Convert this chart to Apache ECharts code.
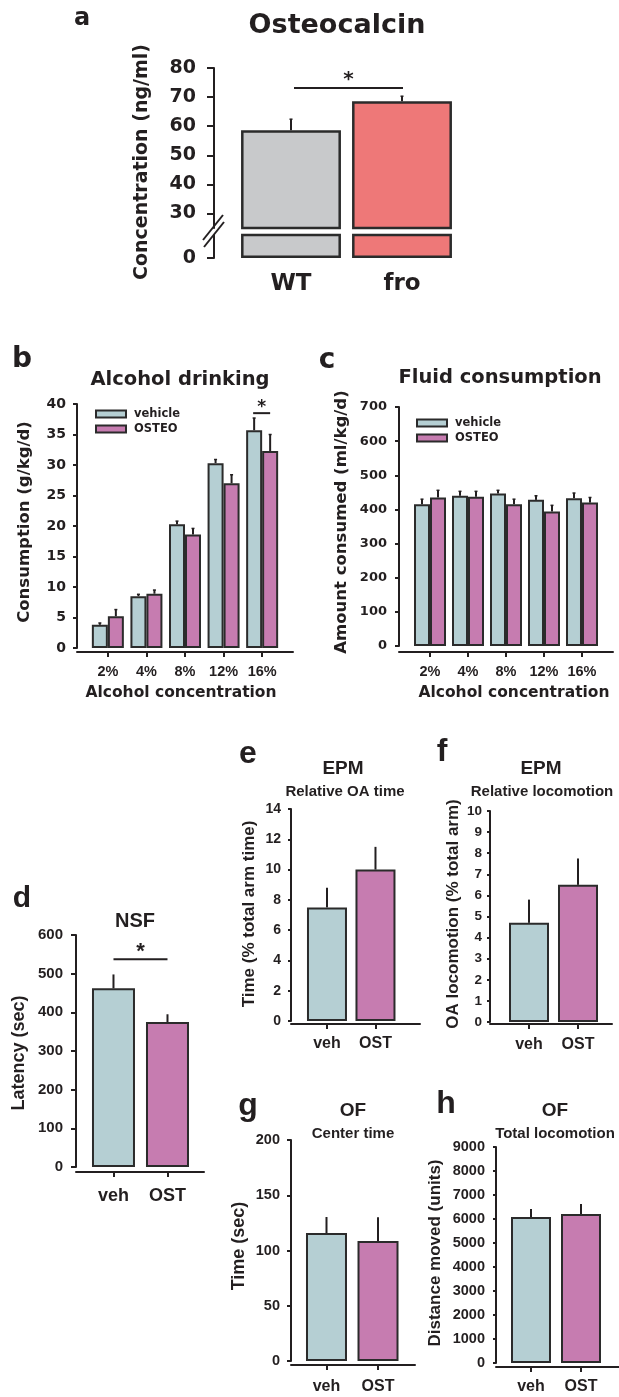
<!DOCTYPE html>
<html>
<head>
<meta charset="utf-8">
<script src="https://cdn.jsdelivr.net/npm/echarts@6/dist/echarts.min.js"></script>
<style>
  html, body { margin: 0; padding: 0; background: #fff; }
  #main { width: 619px; height: 1397px; }
</style>
</head>
<body>
<div id="main"></div>
<script>
// ---- data ----
const oscGroups = ["WT", "fro"];
const oscMean = [58.6, 68.6];
const oscSem = [3.8, 1.7];
const oscTicks = [30, 40, 50, 60, 70, 80];

const concCats = ["2%", "4%", "8%", "12%", "16%"];
const drinkVeh = [3.8, 8.5, 20.3, 30.3, 35.7];
const drinkVehSem = [0.3, 0.3, 0.5, 0.6, 2.0];
const drinkOst = [5.2, 8.9, 18.6, 27.0, 32.3];
const drinkOstSem = [1.1, 0.6, 1.0, 1.4, 2.7];
const fluidVeh = [415, 440, 447, 428, 433];
const fluidVehSem = [15, 13, 9, 12, 15];
const fluidOst = [435, 437, 415, 394, 420];
const fluidOstSem = [21, 16, 15, 18, 15];

const treatCats = ["veh", "OST"];
const nsfMean = [462, 375];
const nsfSem = [36, 20];
const oaTimeMean = [7.5, 10.0];
const oaTimeSem = [1.3, 1.5];
const oaLocoMean = [4.7, 6.5];
const oaLocoSem = [1.1, 1.25];
const centerMean = [115.8, 108.6];
const centerSem = [14.5, 21.5];
const distMean = [6080, 6210];
const distSem = [335, 415];

// ---- styles ----
const INK = "#231f20";
const EDGE = "#2b2b2b";
const VEH = "#b5cfd3";
const OST = "#c67cb0";
const OSC_COLORS = ["#c8c9cb", "#ee7878"];
const DJ = "DejaVu Sans";
const LB = "Liberation Sans";

var chart = echarts.init(document.getElementById("main"));

function grid(left, top, width, height) {
  return { left: left, top: top, width: width, height: height, containLabel: false, outerBoundsMode: "none" };
}

function yAx(gi, o) {
  var ax = {
    type: "value", gridIndex: gi, min: o.min, max: o.max, offset: o.offset || 0,
    axisLine: { show: true, onZero: false, lineStyle: { color: INK, width: 2 } },
    axisTick: { show: true, length: o.tick || 4, lineStyle: { color: INK, width: 2 } },
    axisLabel: { color: INK, fontFamily: o.font, fontWeight: "bold", fontSize: o.fs, margin: o.margin,
      formatter: function (v) { return String(v); } },
    splitLine: { show: false }
  };
  if (o.interval) ax.interval = o.interval;
  if (o.values) {
    ax.axisTick.customValues = o.values;
    ax.axisLabel.customValues = o.values;
  }
  return ax;
}

function xAx(gi, cats, o) {
  var idx = cats.map(function (c, i) { return i; });
  return {
    type: "value", gridIndex: gi, min: o.min, max: o.max, offset: o.offset,
    axisLine: { show: true, onZero: false, lineStyle: { color: INK, width: 2 } },
    axisTick: { show: true, length: 5, customValues: idx, lineStyle: { color: INK, width: 2 } },
    axisLabel: {
      customValues: idx, color: INK, fontFamily: o.font, fontWeight: "bold", fontSize: o.fs, margin: o.margin,
      formatter: function (v) { return cats[Math.round(v)]; }
    },
    splitLine: { show: false }
  };
}

function bars(gi, name, means, color, width, extra) {
  return Object.assign({
    type: "bar", name: name, xAxisIndex: gi, yAxisIndex: gi, barWidth: width, barGap: "0%",
    data: means.map(function (v, i) { return [i, v]; }),
    itemStyle: { color: color, borderColor: EDGE, borderWidth: 2 },
    animation: false
  }, extra || {});
}

function pairBars(gi, means, width) {
  var cols = [VEH, OST];
  return {
    type: "bar", xAxisIndex: gi, yAxisIndex: gi, barWidth: width,
    data: means.map(function (v, i) { return { value: [i, v], itemStyle: { color: cols[i] } }; }),
    itemStyle: { borderColor: EDGE, borderWidth: 2 },
    animation: false
  };
}

function errBars(gi, means, sems, dx, cap) {
  return {
    type: "custom", xAxisIndex: gi, yAxisIndex: gi, silent: true, z: 3,
    data: means.map(function (m, i) { return [i, m, m + sems[i]]; }),
    renderItem: function (params, api) {
      var lo = api.coord([api.value(0), api.value(1)]);
      var hi = api.coord([api.value(0), api.value(2)]);
      var x = lo[0] + dx;
      var kids = [{ type: "line", shape: { x1: x, y1: lo[1], x2: x, y2: hi[1] }, style: { stroke: INK, lineWidth: 2 } }];
      if (cap) kids.push({ type: "line", shape: { x1: x - cap, y1: hi[1], x2: x + cap, y2: hi[1] }, style: { stroke: INK, lineWidth: 1.5 } });
      return { type: "group", children: kids };
    }
  };
}

// significance bracket: from category x0 (+dx0 px) to x1 (+dx1 px) at value y
function sig(gi, x0, x1, y, dx0, dx1, font, fs, dy) {
  return {
    type: "custom", xAxisIndex: gi, yAxisIndex: gi, silent: true, z: 3,
    data: [[x0, x1, y]],
    renderItem: function (params, api) {
      var a = api.coord([api.value(0), api.value(2)]);
      var b = api.coord([api.value(1), api.value(2)]);
      var xa = a[0] + dx0, xb = b[0] + dx1;
      return {
        type: "group", children: [
          { type: "line", shape: { x1: xa, y1: a[1], x2: xb, y2: a[1] }, style: { stroke: INK, lineWidth: 2 } },
          { type: "text", x: (xa + xb) / 2, y: a[1] + dy,
            style: { text: "*", fill: INK, font: "bold " + fs + "px '" + font + "'", align: "center", verticalAlign: "middle" } }
        ]
      };
    }
  };
}

function txt(t, x, y, fs, family, rot) {
  return {
    type: "text", x: x, y: y, rotation: rot ? Math.PI / 2 : 0, silent: true,
    style: { text: t, fill: INK, font: "bold " + fs + "px '" + family + "'", align: "center", verticalAlign: "middle",
      textAlign: "center", textVerticalAlign: "middle" }
  };
}

var texts = [
  txt("a", 82, 19, 24, DJ),
  txt("Osteocalcin", 337, 26, 27, DJ),
  txt("Concentration (ng/ml)", 142, 162, 19, DJ, true),
  txt("b", 22, 360, 28, DJ),
  txt("Alcohol drinking", 180, 380, 19.5, DJ),
  txt("Consumption (g/kg/d)", 25, 522, 16.5, DJ, true),
  txt("Alcohol concentration", 181, 693, 15.5, DJ),
  txt("c", 327, 361, 28, DJ),
  txt("Fluid consumption", 500, 378, 19.5, DJ),
  txt("Amount consumed (ml/kg/d)", 342, 522, 16.5, DJ, true),
  txt("Alcohol concentration", 514, 693, 15.5, DJ),
  txt("d", 22, 899, 30, LB),
  txt("NSF", 135, 921, 20, LB),
  txt("Latency (sec)", 19, 1053, 18, LB, true),
  txt("e", 248, 754, 32, LB),
  txt("EPM", 343, 769, 19, LB),
  txt("Relative OA time", 345, 792, 15, LB),
  txt("Time (% total arm time)", 249, 914, 17, LB, true),
  txt("f", 442, 752, 32, LB),
  txt("EPM", 541, 769, 19, LB),
  txt("Relative locomotion", 542, 792, 15, LB),
  txt("OA locomotion (% total arm)", 453, 914, 17, LB, true),
  txt("g", 248, 1106, 32, LB),
  txt("OF", 353, 1111, 19, LB),
  txt("Center time", 353, 1134, 15, LB),
  txt("Time (sec)", 239, 1246, 18, LB, true),
  txt("h", 446, 1104, 32, LB),
  txt("OF", 555, 1111, 19, LB),
  txt("Total locomotion", 555, 1134, 15, LB),
  txt("Distance moved (units)", 435, 1253, 17, LB, true),
  // axis break marks on panel a
  { type: "line", shape: { x1: 203, y1: 240, x2: 223, y2: 215 }, style: { stroke: INK, lineWidth: 2 } },
  { type: "line", shape: { x1: 204, y1: 247, x2: 224, y2: 222 }, style: { stroke: INK, lineWidth: 2 } }
];

var legendBase = {
  orient: "vertical", itemWidth: 30, itemHeight: 7, itemGap: 3, selectedMode: false,
  icon: "rect", data: ["vehicle", "OSTEO"],
  itemStyle: { borderColor: EDGE, borderWidth: 2 },
  textStyle: { color: INK, fontFamily: DJ, fontWeight: "bold", fontSize: 11.5, padding: [0, 0, 0, 3] }
};

var opt = {
  animation: false,
  grid: [
    grid(235.5, 68, 222, 160),   // a upper
    grid(235.5, 235, 222, 23),   // a lower
    grid(77, 404, 216, 244),     // b
    grid(399, 407, 214, 239),    // c
    grid(76, 935, 128, 232),     // d
    grid(291, 809, 129, 212),    // e
    grid(490, 811, 122, 211),    // f
    grid(291, 1140, 124, 221),   // g
    grid(496, 1147, 123, 216)    // h
  ],
  xAxis: [
    { type: "category", gridIndex: 0, data: oscGroups, axisLine: { show: false }, axisTick: { show: false }, axisLabel: { show: false } },
    { type: "category", gridIndex: 1, data: oscGroups, axisLine: { show: false }, axisTick: { show: false },
      axisLabel: { color: INK, fontFamily: DJ, fontWeight: "bold", fontSize: 23, margin: 15 } },
    xAx(2, concCats, { min: -0.8, max: 4.8, offset: 4, font: LB, fs: 14.5, margin: 12 }),
    xAx(3, concCats, { min: -0.816, max: 4.816, offset: 6, font: LB, fs: 14.5, margin: 12 }),
    xAx(4, treatCats, { min: -0.694, max: 1.676, offset: 5, font: LB, fs: 18, margin: 15 }),
    xAx(5, treatCats, { min: -0.742, max: 1.918, offset: 3, font: LB, fs: 16, margin: 12 }),
    xAx(6, treatCats, { min: -0.796, max: 1.694, offset: 2, font: LB, fs: 16, margin: 13 }),
    xAx(7, treatCats, { min: -0.689, max: 1.718, offset: 4, font: LB, fs: 16, margin: 14 }),
    xAx(8, treatCats, { min: -0.7, max: 1.76, offset: 4, font: LB, fs: 16, margin: 12 })
  ],
  yAxis: [
    yAx(0, { min: 25, max: 80, offset: 21.5, values: oscTicks, tick: 7, font: DJ, fs: 19, margin: 18 }),
    yAx(1, { min: 0, max: 8, offset: 21.5, values: [0], tick: 7, font: DJ, fs: 19, margin: 18 }),
    yAx(2, { min: 0, max: 40, interval: 5, tick: 4, font: DJ, fs: 14, margin: 11 }),
    yAx(3, { min: 0, max: 700, interval: 100, tick: 4, font: DJ, fs: 13, margin: 12 }),
    yAx(4, { min: 0, max: 600, interval: 100, tick: 5, font: LB, fs: 15, margin: 13 }),
    yAx(5, { min: 0, max: 14, interval: 2, tick: 3, font: LB, fs: 14, margin: 10 }),
    yAx(6, { min: 0, max: 10, interval: 1, tick: 3, font: LB, fs: 13.5, margin: 8 }),
    yAx(7, { min: 0, max: 200, interval: 50, tick: 4, font: LB, fs: 14.5, margin: 11 }),
    yAx(8, { min: 0, max: 9000, interval: 1000, tick: 3, font: LB, fs: 14.5, margin: 11 })
  ],
  legend: [
    Object.assign({ left: 90, top: 403 }, legendBase),
    Object.assign({ left: 411, top: 412 }, legendBase)
  ],
  graphic: texts,
  series: [
    // a: broken axis, upper and lower parts of the same bars
    { type: "bar", xAxisIndex: 0, yAxisIndex: 0, barCategoryGap: "10%",
      data: oscMean.map(function (v, i) { return { value: v, itemStyle: { color: OSC_COLORS[i] } }; }),
      itemStyle: { borderColor: EDGE, borderWidth: 2.5 } },
    { type: "bar", xAxisIndex: 1, yAxisIndex: 1, barCategoryGap: "10%",
      data: oscMean.map(function (v, i) { return { value: v, itemStyle: { color: OSC_COLORS[i] } }; }),
      itemStyle: { borderColor: EDGE, borderWidth: 2.5 } },
    errBars(0, oscMean, oscSem, 0, 1.5),
    sig(0, 0, 1, 73.1, 3, 1, DJ, 20, -8),

    // b
    bars(2, "vehicle", drinkVeh, VEH, 16),
    bars(2, "OSTEO", drinkOst, OST, 16),
    errBars(2, drinkVeh, drinkVehSem, -8, 1.5),
    errBars(2, drinkOst, drinkOstSem, 8, 1.5),
    sig(2, 4, 4, 38.5, -9, 8, DJ, 17, -6),

    // c
    bars(3, "vehicle", fluidVeh, VEH, 16),
    bars(3, "OSTEO", fluidOst, OST, 16),
    errBars(3, fluidVeh, fluidVehSem, -8, 1.5),
    errBars(3, fluidOst, fluidOstSem, 8, 1.5),

    // d - h
    pairBars(4, nsfMean, 43),
    errBars(4, nsfMean, nsfSem, 0, 0),
    sig(4, 0, 1, 537, 0, 0, LB, 22, -7),
    pairBars(5, oaTimeMean, 40),
    errBars(5, oaTimeMean, oaTimeSem, 0, 0),
    pairBars(6, oaLocoMean, 40),
    errBars(6, oaLocoMean, oaLocoSem, 0, 0),
    pairBars(7, centerMean, 41),
    errBars(7, centerMean, centerSem, 0, 0),
    pairBars(8, distMean, 40),
    errBars(8, distMean, distSem, 0, 0)
  ]
};

chart.setOption(opt);
</script>
</body>
</html>
